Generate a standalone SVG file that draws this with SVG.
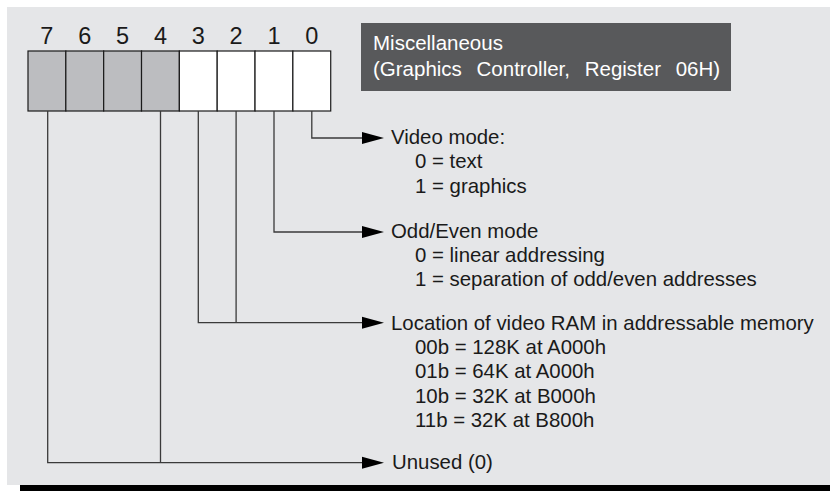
<svg xmlns="http://www.w3.org/2000/svg" width="830" height="491" viewBox="0 0 830 491">
<style>
  text { font-family: "Liberation Sans", Arial, sans-serif; fill: #1a1a1a; }
  .digit { font-size: 23.5px; text-anchor: middle; }
  .body { font-size: 20.4px; }
  .title { font-size: 20.5px; fill: #ffffff; word-spacing: 9px; }
  .cell { stroke: #1a1a1a; stroke-width: 1.2; }
  .unused { fill: #bcbdc0; }
  .used { fill: #ffffff; }
  .conn { fill: none; stroke: #3a3a3a; stroke-width: 1.3; }
  .arrow { fill: #000000; }
</style>
<rect x="7" y="7" width="823" height="478" fill="#e5e6e8"/>
<rect x="20" y="485" width="810" height="6" fill="#000000"/>

<g id="title">
  <rect x="361" y="23" width="370" height="68" fill="#58595b"/>
  <text class="title" x="373" y="50">Miscellaneous</text>
  <text class="title" x="373" y="76">(Graphics Controller, Register 06H)</text>
</g>

<g id="register">
  <text class="digit" x="46.9" y="43.7">7</text>
  <text class="digit" x="84.8" y="43.7">6</text>
  <text class="digit" x="122.6" y="43.7">5</text>
  <text class="digit" x="160.5" y="43.7">4</text>
  <text class="digit" x="198.3" y="43.7">3</text>
  <text class="digit" x="236.1" y="43.7">2</text>
  <text class="digit" x="274.0" y="43.7">1</text>
  <text class="digit" x="311.8" y="43.7">0</text>
  <rect class="cell unused" x="28" y="51" width="37.84" height="60"/>
  <rect class="cell unused" x="65.84" y="51" width="37.84" height="60"/>
  <rect class="cell unused" x="103.68" y="51" width="37.84" height="60"/>
  <rect class="cell unused" x="141.52" y="51" width="37.84" height="60"/>
  <rect class="cell used" x="179.36" y="51" width="37.84" height="60"/>
  <rect class="cell used" x="217.2" y="51" width="37.84" height="60"/>
  <rect class="cell used" x="255.04" y="51" width="37.84" height="60"/>
  <rect class="cell used" x="292.88" y="51" width="37.84" height="60"/>
</g>

<g id="connectors">
  <polyline class="conn" points="311.8,111 311.8,138 363,138"/>
  <polygon class="arrow" points="362,132 384,138 362,144"/>
  <polyline class="conn" points="274,111 274,232 363,232"/>
  <polygon class="arrow" points="362,226 384,232 362,238"/>
  <polyline class="conn" points="236.1,111 236.1,322.7"/>
  <polyline class="conn" points="198.3,111 198.3,322.7 363,322.7"/>
  <polygon class="arrow" points="362,316.7 384,322.7 362,328.7"/>
  <polyline class="conn" points="160.5,111 160.5,462.7"/>
  <polyline class="conn" points="47.7,111 47.7,462.7 363,462.7"/>
  <polygon class="arrow" points="362,456.7 384,462.7 362,468.7"/>
</g>

<g id="bit0">
  <text class="body" x="391" y="144">Video mode:</text>
  <text class="body" x="415" y="168">0 = text</text>
  <text class="body" x="415" y="193">1 = graphics</text>
</g>

<g id="bit1">
  <text class="body" x="391" y="238">Odd/Even mode</text>
  <text class="body" x="415" y="262">0 = linear addressing</text>
  <text class="body" x="415" y="286">1 = separation of odd/even addresses</text>
</g>

<g id="bit3-2">
  <text class="body" x="391" y="330">Location of video RAM in addressable memory</text>
  <text class="body" x="415" y="354">00b = 128K at A000h</text>
  <text class="body" x="415" y="378">01b = 64K at A000h</text>
  <text class="body" x="415" y="403">10b = 32K at B000h</text>
  <text class="body" x="415" y="427">11b = 32K at B800h</text>
</g>

<g id="bit7-4">
  <text class="body" x="392" y="469">Unused (0)</text>
</g>
</svg>
